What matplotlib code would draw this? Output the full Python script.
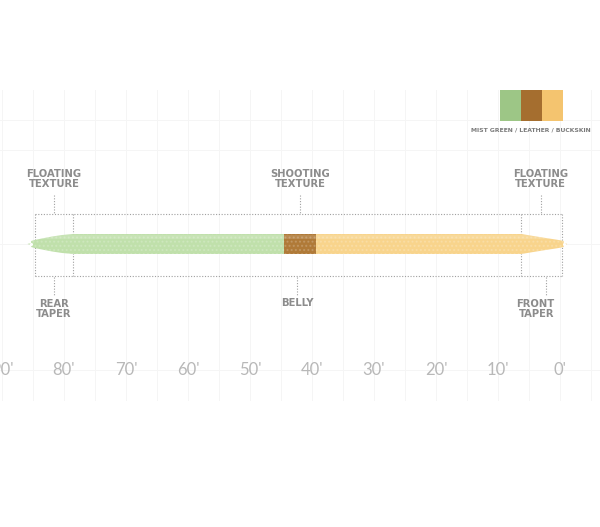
import matplotlib
matplotlib.use("Agg")
import matplotlib.pyplot as plt
from matplotlib.patches import Polygon, Circle

# ---- data -------------------------------------------------------------
tick_ft = [90, 80, 70, 60, 50, 40, 30, 20, 10, 0]
tick_labels = ["90'", "80'", "70'", "60'", "50'", "40'", "30'", "20'", "10'", "0'"]

# colour sections of the line (feet from the tip)
seg_names = ["Mist Green", "Leather", "Buckskin"]
seg_start = [44.5, 39.4, -1.0]
seg_end = [85.5, 44.5, 39.4]
seg_colors = ["#c0e0ab", "#b07a38", "#f8d48c"]
legend_colors = ["#9dc686", "#a56e2f", "#f4c46f"]

# line profile: position (ft) and half thickness (px)
profile_ft = [85.3, 84.6, 83.5, 82.0, 80.3, 78.5, 6.2, 4.5, 2.5, 0.4, -0.6]
profile_half = [3.0, 4.2, 5.6, 7.4, 9.0, 10.0, 10.0, 8.2, 6.2, 4.2, 3.0]

# dotted guide boxes
box_top, box_bottom = 214, 276
box_verticals = [84.7, 78.5, 6.3, -0.3]

# callouts: (label, x ft, label y px, leader y0, leader y1, align)
callouts = [
    ("FLOATING\nTEXTURE", 81.6, 179, 195, 213, "center"),
    ("SHOOTING\nTEXTURE", 41.9, 179, 195, 213, "center"),
    ("FLOATING\nTEXTURE", 3.1, 179, 195, 213, "center"),
    ("REAR\nTAPER", 81.6, 309, 277, 295, "center"),
    ("BELLY", 42.4, 303, 277, 295, "center"),
    ("FRONT\nTAPER", 2.3, 309, 277, 295, "right"),
]

PX_PER_FT = 6.2
ZERO_PX = 560
LINE_Y = 244

fig = plt.figure(figsize=(6.0, 5.27), dpi=100)
ax = fig.add_axes([0, 0, 1, 1])
ax.set_xlim(ZERO_PX / PX_PER_FT, (ZERO_PX - 600) / PX_PER_FT)
ax.set_ylim(527, 0)
ax.axis("off")

# faint background grid
grid_c = "#f5f5f5"
for g in range(-5, 95, 5):
    ax.plot([g, g], [90, 400], color=grid_c, lw=0.7, zorder=0)
for gy in [120, 150, 244, 370]:
    ax.plot([92, -8], [gy, gy], color=grid_c, lw=0.7, zorder=0)

# dotted guide boxes
dot = dict(color="#a0a0a0", lw=0.8, ls=(0, (1, 1.5)), zorder=1)
ax.plot([box_verticals[0], box_verticals[-1]], [box_top, box_top], **dot)
ax.plot([box_verticals[0], box_verticals[-1]], [box_bottom, box_bottom], **dot)
for v in box_verticals:
    ax.plot([v, v], [box_top, box_bottom], **dot)

# line outline
top = [(f, LINE_Y - h) for f, h in zip(profile_ft, profile_half)]
bot = [(f, LINE_Y + h) for f, h in zip(profile_ft[::-1], profile_half[::-1])]
outline = Polygon(top + bot, closed=True, facecolor="none", edgecolor="none")
ax.add_patch(outline)

for s, e, c in zip(seg_start, seg_end, seg_colors):
    band = ax.fill_between([s, e], LINE_Y - 11, LINE_Y + 11, color=c, lw=0, zorder=2)
    band.set_clip_path(outline)
    tex = ax.fill_between([s, e], LINE_Y - 11, LINE_Y + 11, facecolor="none",
                          edgecolor=(1, 1, 1, 0.18), hatch="....", lw=0, zorder=3)
    tex.set_clip_path(outline)
    hi = ax.fill_between([s, e], LINE_Y - 9, LINE_Y - 5, color="white",
                         alpha=0.12, lw=0, zorder=3)
    hi.set_clip_path(outline)

# tip loops
for f, c in [(profile_ft[0], seg_colors[0]), (profile_ft[-1], seg_colors[2])]:
    ax.add_patch(Circle((f, LINE_Y), 0.55, facecolor=c, edgecolor="none", zorder=2))
    ax.plot([f], [LINE_Y], marker="o", ms=2.2, color="white", mec="none", zorder=4)

# callouts
lab_c = "#8c8c8c"
for text, x, ty, y0, y1, ha in callouts:
    ax.plot([x, x], [y0, y1], **dot)
    tx = x if ha == "center" else x - 1.4
    ax.text(tx, ty, text, ha=ha, va="center", multialignment=ha,
            fontsize=8.0, fontweight="bold", fontstretch="condensed",
            color=lab_c, linespacing=1.05, family=["DejaVu Sans"])

# distance ticks
for f, lab in zip(tick_ft, tick_labels):
    ax.text(f, 370, lab, ha="center", va="center", fontsize=12,
            color="#b8b8b8", family=["Lato", "DejaVu Sans"])

# colour legend
lax = fig.add_axes([500 / 600, 1 - 121 / 527, 63 / 600, 31 / 527])
lax.bar(range(len(legend_colors)), [1] * len(legend_colors), width=1.0,
        color=legend_colors)
lax.set_xlim(-0.5, len(legend_colors) - 0.5)
lax.set_ylim(0, 1)
lax.axis("off")
fig.text(531 / 600, 1 - 130 / 527, " / ".join(n.upper() for n in seg_names),
         ha="center", va="center", fontsize=4.4, fontweight="bold",
         color="#7a7a7a", family=["DejaVu Sans"])

fig.savefig("out.png", dpi=100, facecolor="white")
